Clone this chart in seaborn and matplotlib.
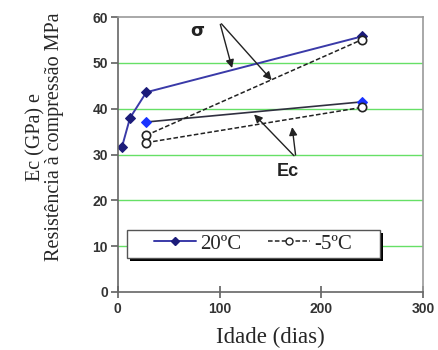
import matplotlib
matplotlib.use("Agg")
import matplotlib.pyplot as plt
import seaborn as sns
import pandas as pd
from matplotlib.lines import Line2D
from matplotlib.patches import Rectangle

# Data
sigma_20_days = [4, 12, 28, 240]
sigma_20_vals = [31.6, 38.0, 43.6, 55.8]
ec_20_days = [28, 240]
ec_20_vals = [37.1, 41.5]
sigma_m5_days = [28, 240]
sigma_m5_vals = [34.2, 55.1]
ec_m5_days = [28, 240]
ec_m5_vals = [32.6, 40.3]

sns.set_theme(style="white")
plt.rcParams['font.family'] = ['DejaVu Sans']

fig = plt.figure(figsize=(4.38, 3.5), dpi=100)
ax = fig.add_axes([0.269, 0.166, 0.697, 0.785])

navy = "#1c1c7a"
blue = "#1a33ff"

df1 = pd.DataFrame({"x": sigma_20_days, "y": sigma_20_vals})
sns.lineplot(data=df1, x="x", y="y", ax=ax, color="#3a3aa8", lw=1.4,
             marker="D", markersize=5, markerfacecolor=navy, markeredgecolor=navy)
df2 = pd.DataFrame({"x": ec_20_days, "y": ec_20_vals})
sns.lineplot(data=df2, x="x", y="y", ax=ax, color="#303040", lw=1.2,
             marker="D", markersize=5, markerfacecolor=blue, markeredgecolor=blue)
df3 = pd.DataFrame({"x": sigma_m5_days, "y": sigma_m5_vals})
sns.lineplot(data=df3, x="x", y="y", ax=ax, color="#222222", lw=1.1, linestyle=(0, (3, 1.5)),
             marker="o", markersize=6, markerfacecolor="white", markeredgecolor="#222222", markeredgewidth=1.2)
df4 = pd.DataFrame({"x": ec_m5_days, "y": ec_m5_vals})
sns.lineplot(data=df4, x="x", y="y", ax=ax, color="#222222", lw=1.1, linestyle=(0, (3, 1.5)),
             marker="o", markersize=6, markerfacecolor="white", markeredgecolor="#222222", markeredgewidth=1.2)

ax.set_xlim(0, 300)
ax.set_ylim(0, 60)
ax.set_xticks([0, 100, 200, 300])
ax.set_yticks([0, 10, 20, 30, 40, 50, 60])
for yv in [10, 20, 30, 40, 50]:
    ax.axhline(yv, color="#66e066", lw=1.0, zorder=0)

for s in ax.spines.values():
    s.set_color("#999999")
    s.set_linewidth(1.2)
ax.spines["left"].set_color("#666666")
ax.spines["bottom"].set_color("#666666")
ax.tick_params(axis="y", direction="out", length=5, color="#666666", left=True, pad=2)
ax.tick_params(axis="x", direction="inout", length=8, color="#666666", bottom=True, pad=3)
for lab in ax.get_xticklabels() + ax.get_yticklabels():
    lab.set_fontsize(10)
    lab.set_fontweight("bold")
    lab.set_color("#333333")
    lab.set_family("Liberation Sans")

ax.set_xlabel("Idade (dias)", family="Liberation Serif", fontsize=16.5, labelpad=8)
ax.set_ylabel("Ec (GPa) e\nResistência à compressão MPa", family="Liberation Serif",
              fontsize=14.5, linespacing=1.0)
ax.yaxis.set_label_coords(-0.176, 0.565)

# Annotations
ax.text(78, 57, "σ", fontsize=13, fontweight="bold", ha="center", va="center", color="#222222")
arrow = dict(arrowstyle="-|>", color="#222222", lw=1.0, mutation_scale=12)
ax.annotate("", xy=(113, 48.3), xytext=(100, 59), arrowprops=arrow)
ax.annotate("", xy=(153, 45.8), xytext=(100, 59), arrowprops=arrow)
ax.text(167, 26.2, "Ec", fontsize=13, fontweight="bold", ha="center", va="center", color="#222222",
        family="Liberation Sans")
ax.annotate("", xy=(132, 39.2), xytext=(175, 29.3), arrowprops=arrow)
ax.annotate("", xy=(171, 36.6), xytext=(175, 29.3), arrowprops=arrow)

# Legend box with shadow (axes coords)
x0, x1, y0, y1 = 0.029, 0.858, 0.124, 0.226
dx, dy = 3.5 / 305.3, -3.5 / 274.75
ax.add_patch(Rectangle((x0 + dx, y0 + dy), x1 - x0, y1 - y0, transform=ax.transAxes,
                       facecolor="black", edgecolor="none", zorder=5))
ax.add_patch(Rectangle((x0, y0), x1 - x0, y1 - y0, transform=ax.transAxes,
                       facecolor="white", edgecolor="#555555", lw=1.0, zorder=6))

h1 = Line2D([], [], color="#3a3aa8", lw=1.4, marker="D", markersize=4,
            markerfacecolor=navy, markeredgecolor=navy)
h2 = Line2D([], [], color="#222222", lw=1.1, linestyle=(0, (3, 1.5)), marker="o", markersize=5,
            markerfacecolor="white", markeredgecolor="#222222")
leg = ax.legend([h1, h2], ["20ºC", "-5ºC"], ncol=2, loc="center",
                bbox_to_anchor=((x0 + x1) / 2, (y0 + y1) / 2),
                prop={"family": "Liberation Serif", "size": 15}, frameon=False,
                handlelength=2.0, handletextpad=0.2, columnspacing=1.3, borderpad=0.1)
leg.set_zorder(7)

fig.savefig("out.png", dpi=100)
